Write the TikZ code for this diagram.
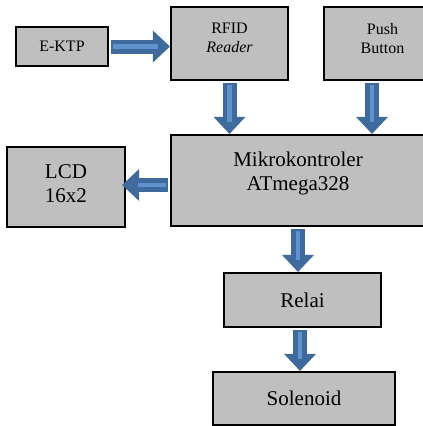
\documentclass[tikz,border=0pt]{standalone}
\usepackage{fontspec}
\setmainfont{Liberation Serif}
\usetikzlibrary{arrows.meta,positioning}
\definecolor{biru}{RGB}{62,106,158}
\definecolor{birumuda}{RGB}{96,146,206}
\definecolor{abu}{RGB}{191,191,191}

\begin{document}
\begin{tikzpicture}[x=1pt, y=-1pt,
    blok/.style={draw=black, fill=abu, line width=2.2pt, align=center, inner sep=0pt},
    kecil/.style={font=\fontsize{16}{19}\selectfont},
    besar/.style={font=\fontsize{21}{24}\selectfont},
    panah/.style={draw=biru, line width=14pt, shorten <=2pt,
      -{Triangle[width=32pt,length=17pt,line width=0pt 0 0]},
      postaction={draw=birumuda, line width=4.5pt, -, shorten <=4pt, shorten >=12pt}}]
    \clip (0,0) rectangle (423,426);
    % kotak
    \node[blok, kecil, minimum width=92pt, minimum height=39pt] (ektp) at (62,46.5) {E-KTP};
    \node[blok, kecil, minimum width=117pt, minimum height=73pt, text depth=10.6pt] (rfid) at (229.5,43.5) {RFID\\\textit{Reader}};
    \node[blok, kecil, minimum width=117pt, minimum height=73pt, text depth=10.6pt] (push) at (382.5,43.5) {Push\\Button};
    \node[blok, besar, minimum width=254pt, minimum height=91pt, text depth=19pt] (mikro) at (298,180.5) {Mikrokontroler\\ATmega328};
    \node[blok, besar, minimum width=118pt, minimum height=80pt, text depth=6pt] (lcd) at (66,187) {LCD\\16x2};
    \node[blok, besar, minimum width=157pt, minimum height=54pt] (relai) at (302.5,300) {Relai};
    \node[blok, besar, minimum width=182pt, minimum height=53pt] (sol) at (304,398.5) {Solenoid};
    % panah
    \draw[panah] (ektp.east) -- (ektp.east -| rfid.west);
    \draw[panah] (rfid.south) -- (rfid.south |- mikro.north);
    \draw[panah] ([xshift=-10.5pt]push.south) -- ([xshift=-10.5pt]push.south |- mikro.north);
    \draw[panah, shorten >=-4pt] ([yshift=-4.5pt]mikro.west) -- ([yshift=-4.5pt]mikro.west -| lcd.east);
    \draw[panah] (mikro.south) -- (mikro.south |- relai.north);
    \draw[panah] ([xshift=-2.5pt]relai.south) -- ([xshift=-2.5pt]relai.south |- sol.north);
\end{tikzpicture}
\end{document}
